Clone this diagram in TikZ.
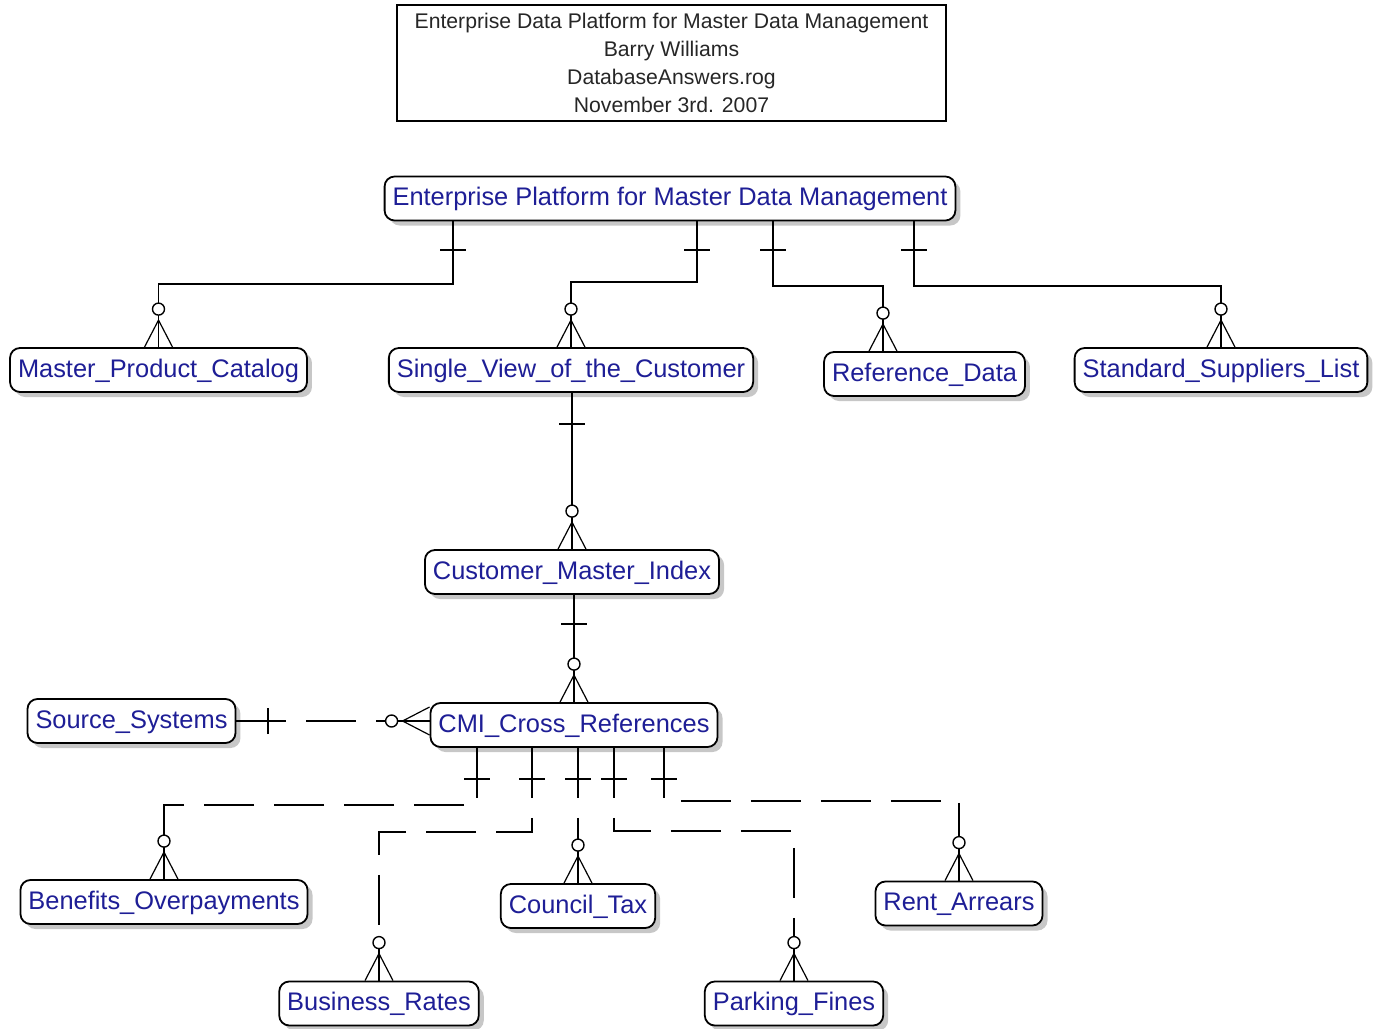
\documentclass[tikz,border=0pt]{standalone}
\usepackage{fontspec}
\setmainfont{Liberation Sans}
\usetikzlibrary{shadows}
\definecolor{entblue}{RGB}{30,30,150}
\tikzset{
  entity/.style={draw,rounded corners=5pt,fill=white,line width=0.9pt,text=entblue,
    font=\fontsize{12.7}{15}\selectfont,inner xsep=4pt,inner ysep=0pt,minimum height=22pt,
    text height=0.8em,text depth=0.1em,
    drop shadow={shadow xshift=2.5pt,shadow yshift=-2.5pt,fill=black!22,opacity=1}},
  rel/.style={line width=0.9pt},
  nonid/.style={line width=0.9pt,dash pattern=on 25pt off 10pt},
  manyend/.pic={
    \draw[solid,line width=0.6pt] (-14,0)--(0,-27)--(14,0);
    \draw[solid,line width=0.9pt] (0,-32)--(0,0);
    \draw[solid,line width=0.7pt,fill=white] (0,-38) circle[radius=6];},
  onebar/.pic={\draw[solid,line width=0.9pt] (-13,0)--(13,0);}
}
\begin{document}
\begin{tikzpicture}[x=0.5pt,y=-0.5pt]
\useasboundingbox (0,0) rectangle (1378,1029);
\node[draw,line width=0.8pt,minimum width=274.5pt,minimum height=58pt,align=center,
  text=black!85,font=\fontsize{10.6}{14}\selectfont] (title) at (671.5,63)
  {Enterprise Data Platform for Master Data Management\\Barry Williams\\DatabaseAnswers.rog\\November 3rd. 2007};

% entities
\node[entity] (ep) at (670,198.5) {Enterprise Platform for Master Data Management};
\node[entity] (mpc) at (158.5,370) {Master\_Product\_Catalog};
\node[entity] (svc) at (571,370) {Single\_View\_of\_the\_Customer};
\node[entity] (rd) at (924.5,374) {Reference\_Data};
\node[entity] (ssl) at (1221,370) {Standard\_Suppliers\_List};
\node[entity] (cmi) at (572,572) {Customer\_Master\_Index};
\node[entity] (cmx) at (574,725) {CMI\_Cross\_References};
\node[entity] (srcsys) at (131.5,721) {Source\_Systems};
\node[entity] (bo) at (164,902) {Benefits\_Overpayments};
\node[entity] (ct) at (578,906) {Council\_Tax};
\node[entity] (ra) at (959,903.5) {Rent\_Arrears};
\node[entity] (br) at (379,1003.5) {Business\_Rates};
\node[entity] (pf) at (794,1003.5) {Parking\_Fines};

% identifying relationships
\draw[rel] (ep.south -| 453,0) |- (mpc.north |- 0,284) -- (mpc.north);
\draw[rel] (ep.south -| 697,0) |- (svc.north |- 0,282) -- (svc.north);
\draw[rel] (ep.south -| 773,0) |- (883,286) -- (rd.north -| 883,0);
\draw[rel] (ep.south -| 914,0) |- (ssl.north |- 0,286) -- (ssl.north);
\draw[rel] (cmi.north |- svc.south) -- (cmi.north);
\draw[rel] (cmx.north |- cmi.south) -- (cmx.north);
\foreach \x in {453,697,773,914} \pic at (\x,250) {onebar};
\pic at (cmi.north |- 0,424) {onebar};
\pic at (cmx.north |- 0,624) {onebar};
\foreach \e in {mpc,svc,ssl,cmi,cmx} \pic at (\e.north) {manyend};
\pic at (rd.north -| 883,0) {manyend};

% non-identifying relationships
\draw[nonid] (srcsys.east) -- (cmx.west |- srcsys.east);
\pic[rotate=90] at (268,721) {onebar};
\pic[rotate=90] at (cmx.west |- srcsys.east) {manyend};
\draw[nonid] (cmx.south -| 477,0) |- (bo.north |- 0,805) -- (bo.north);
\draw[nonid] (cmx.south -| 532,0) |- (br.north |- 0,832) -- (br.north);
\draw[nonid] (ct.north |- cmx.south) -- (ct.north);
\draw[nonid] (cmx.south -| 614,0) |- (pf.north |- 0,831) -- (pf.north);
\draw[nonid] (cmx.south -| 664,0) |- (ra.north |- 0,801) -- (ra.north);
\foreach \x in {477,532,578,614,664} \pic at (\x,779) {onebar};
\foreach \e in {bo,br,ct,pf,ra} \pic at (\e.north) {manyend};
\end{tikzpicture}
\end{document}
